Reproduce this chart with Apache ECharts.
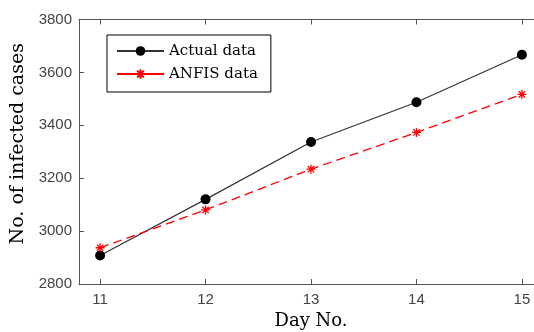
<!DOCTYPE html>
<html>
<head>
<meta charset="utf-8">
<script src="https://cdn.jsdelivr.net/npm/echarts@6/dist/echarts.min.js"></script>
<style>html,body{margin:0;padding:0;background:#fff}#c{width:534px;height:332px}</style>
</head>
<body>
<div id="c"></div>
<script>
var days = [11, 12, 13, 14, 15];
var actualData = [2908, 3120, 3337, 3487, 3667];
var anfisData = [2937, 3080, 3234, 3373, 3517];
var xTicks = [11, 12, 13, 14, 15];
var yTicks = [2800, 3000, 3200, 3400, 3600, 3800];

function zip(xs, ys) { return xs.map(function (x, i) { return [x, ys[i]]; }); }

var chart = echarts.init(document.getElementById('c'), null, {renderer: 'canvas'});
var axisCol = '#555';
var labCol = '#444';
var star = 'path://M0,-10 L0,10 M-10,0 L10,0 M-7,-7 L7,7 M-7,7 L7,-7';

chart.setOption({
  animation: false,
  backgroundColor: '#fff',
  grid: {left: 79, top: 19.5, height: 264.5, width: 464, outerBoundsMode: 'none', containLabel: false},
  legend: {
    orient: 'vertical', left: 107, top: 35,
    backgroundColor: '#fff', borderColor: '#000', borderWidth: 1,
    padding: [8, 13, 10, 9],
    itemWidth: 47, itemHeight: 12, itemGap: 7,
    textStyle: {fontFamily: 'DejaVu Serif', fontSize: 15, color: '#000', lineHeight: 16},
    data: [
      {name: 'Actual data'},
      {name: 'ANFIS data', lineStyle: {type: 'solid'}}
    ]
  },
  xAxis: [{
    type: 'value', min: 10.8, max: 15.2, position: 'bottom',
    name: 'Day No.', nameLocation: 'middle', nameGap: 28,
    nameTextStyle: {fontFamily: 'DejaVu Serif', fontSize: 18, color: '#000'},
    axisLine: {show: true, lineStyle: {color: axisCol, width: 1}},
    axisTick: {show: true, inside: true, length: 5, customValues: xTicks, lineStyle: {color: axisCol}},
    axisLabel: {customValues: xTicks, margin: 8, fontFamily: 'Liberation Sans', fontSize: 15, color: labCol},
    splitLine: {show: false}
  }, {
    type: 'value', min: 10.8, max: 15.2, position: 'top',
    axisLine: {show: true, lineStyle: {color: axisCol, width: 1}},
    axisTick: {show: true, inside: true, length: 5, customValues: xTicks, lineStyle: {color: axisCol}},
    axisLabel: {show: false},
    splitLine: {show: false}
  }],
  yAxis: {
    type: 'value', min: 2800, max: 3800, interval: 200,
    name: 'No. of infected cases', nameLocation: 'middle', nameGap: 48,
    nameTextStyle: {fontFamily: 'DejaVu Serif', fontSize: 19, color: '#000', padding: [0, 0, 0, 16]},
    axisLine: {show: true, lineStyle: {color: axisCol, width: 1}},
    axisTick: {show: true, inside: true, length: 5, lineStyle: {color: axisCol}},
    axisLabel: {margin: 7, fontFamily: 'Liberation Sans', fontSize: 15, color: labCol,
      formatter: function (v) { return String(v); }},
    splitLine: {show: false}
  },
  series: [{
    name: 'Actual data', type: 'line', data: zip(days, actualData),
    symbol: 'circle', symbolSize: 10,
    itemStyle: {color: '#000'},
    lineStyle: {color: '#333', width: 1.2},
    z: 2
  }, {
    name: 'ANFIS data', type: 'line', data: zip(days, anfisData),
    symbol: star, symbolSize: 9,
    itemStyle: {color: '#ff0000', borderColor: '#ff0000', borderWidth: 1.3},
    lineStyle: {color: '#ff0000', width: 1.3, type: [9, 5]},
    z: 3
  }]
});
</script>
</body>
</html>
